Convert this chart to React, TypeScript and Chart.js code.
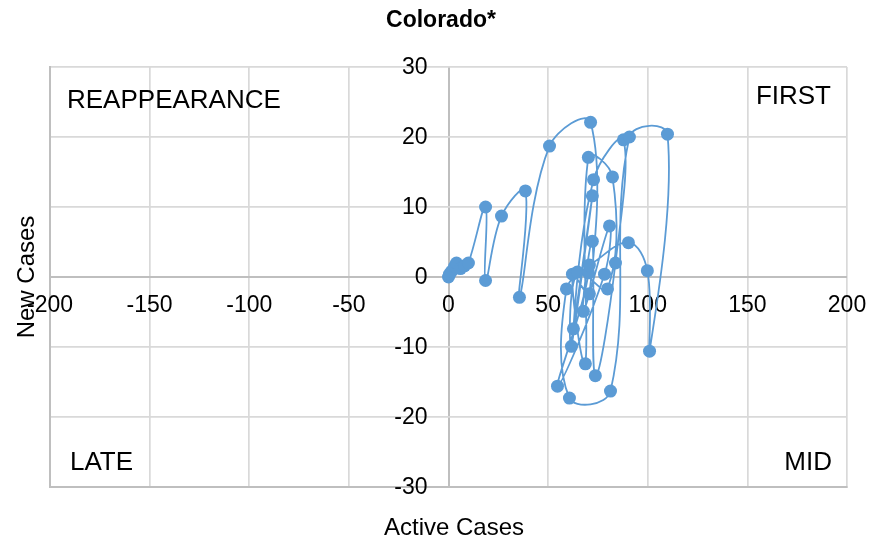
import React, { useEffect, useRef } from "react";
import { Chart, registerables } from "chart.js";

Chart.register(...registerables);

const chartTitle = "Colorado*";
const xAxisTitle = "Active Cases";
const yAxisTitle = "New Cases";

const activeCases = [
  0, 0.5, 1.5, 3, 4, 6, 8, 10,
  18.6, 18.6, 26.6, 38.6, 35.6, 50.7, 71.3, 70.7, 62.2, 68.7, 70.2, 82.3,
  79.8, 64.7, 61.7, 72.2, 62.7, 72.8, 87.8, 83.8, 73.7, 72.2, 67.7, 80.8,
  78.3, 54.7, 70.2, 59.2, 60.7, 81.3, 90.8, 109.9, 100.9, 99.8, 90.3, 70.7,
];
const newCases = [
  0, 0.4, 0.8, 1.5, 2, 1.2, 1.6, 2,
  10, -0.5, 8.7, 12.3, -2.9, 18.7, 22.1, -2.4, 0.4, -12.4, 17.1, 14.3,
  -1.7, 0.7, -9.9, 11.6, -7.4, 13.9, 19.6, 2.0, -14.1, 5.1, -4.9, 7.3,
  0.4, -15.6, 0.6, -1.7, -17.3, -16.3, 20.0, 20.4, -10.6, 0.9, 4.9, 1.7,
];

const xTicks = [-200, -150, -100, -50, 0, 50, 100, 150, 200];
const yTicks = [-30, -20, -10, 0, 10, 20, 30];

const quadrantLabels = ["REAPPEARANCE", "FIRST", "LATE", "MID"];

const BLUE = "#5B9BD5";
const FONT = "'Liberation Sans', Arial, sans-serif";

export default function App() {
  const ref = useRef<HTMLCanvasElement>(null);

  useEffect(() => {
    const canvas = ref.current!;
    const points = activeCases.map((x, i) => ({ x, y: newCases[i] }));

    const overlay = {
      id: "overlay",
      beforeDatasetsDraw(chart: any) {
        const { ctx, chartArea } = chart;
        const xs = chart.scales.x;
        const ys = chart.scales.y;
        const x0 = xs.getPixelForValue(0);
        const y0 = ys.getPixelForValue(0);
        ctx.save();
        ctx.fillStyle = "#000";
        ctx.font = `23px ${FONT}`;
        ctx.textAlign = "right";
        ctx.textBaseline = "middle";
        yTicks.forEach((v) => {
          ctx.fillText(String(v), x0 - 21, ys.getPixelForValue(v) + 1);
        });
        ctx.textAlign = "center";
        xTicks.forEach((v) => {
          ctx.fillText(String(v), xs.getPixelForValue(v), y0 + 29);
        });

        // quadrant labels
        ctx.font = `26px ${FONT}`;
        ctx.textAlign = "left";
        ctx.fillText(quadrantLabels[0], chartArea.left + 17, 101);
        ctx.fillText(quadrantLabels[2], chartArea.left + 20, 463);
        ctx.textAlign = "right";
        ctx.fillText(quadrantLabels[1], chartArea.right - 16, 97);
        ctx.fillText(quadrantLabels[3], chartArea.right - 15, 463);

        // titles
        ctx.font = `bold 23px ${FONT}`;
        ctx.textAlign = "center";
        ctx.fillText(chartTitle, 441, 21);
        ctx.font = `24px ${FONT}`;
        ctx.fillText(xAxisTitle, 454, 528);
        ctx.translate(27, 277);
        ctx.rotate(-Math.PI / 2);
        ctx.fillText(yAxisTitle, 0, 0);
        ctx.restore();
      },
    };

    const gridColor = (ctx: any) => {
      const v = ctx.tick && ctx.tick.value;
      if (v === 0) return "#BFBFBF";
      return "#D9D9D9";
    };
    const gridWidth = (ctx: any) => {
      const v = ctx.tick && ctx.tick.value;
      return v === 0 ? 2 : 1.7;
    };

    const chart = new Chart(canvas, {
      type: "scatter",
      data: {
        datasets: [
          {
            data: points,
            showLine: true,
            tension: 0.4,
            borderColor: BLUE,
            backgroundColor: BLUE,
            borderWidth: 1.8,
            pointRadius: 6.5,
            pointBorderWidth: 0,
            pointBackgroundColor: BLUE,
          },
        ],
      },
      options: {
        responsive: false,
        animation: false,
        layout: { padding: { left: 50, top: 67, right: 36, bottom: 58 } },
        plugins: {
          legend: { display: false },
          title: { display: false },
          tooltip: { enabled: false },
        },
        scales: {
          x: {
            type: "linear",
            min: -200,
            max: 200,
            afterBuildTicks: (s: any) => {
              s.ticks = xTicks.map((v) => ({ value: v }));
            },
            ticks: { display: false },
            grid: { color: gridColor, lineWidth: gridWidth, drawTicks: false },
            border: { display: true, color: "#BFBFBF", width: 2 },
            title: { display: false },
          },
          y: {
            type: "linear",
            min: -30,
            max: 30,
            afterBuildTicks: (s: any) => {
              s.ticks = yTicks.map((v) => ({ value: v }));
            },
            ticks: { display: false },
            grid: { color: gridColor, lineWidth: gridWidth, drawTicks: false },
            border: { display: true, color: "#BFBFBF", width: 2 },
            title: { display: false },
          },
        },
      },
      plugins: [overlay],
    });
    return () => chart.destroy();
  }, []);

  return (
    <div style={{ position: "fixed", left: 0, top: 0, width: 883, height: 545, background: "#fff" }}>
      <canvas ref={ref} width={883} height={545} style={{ display: "block" }} />
    </div>
  );
}
